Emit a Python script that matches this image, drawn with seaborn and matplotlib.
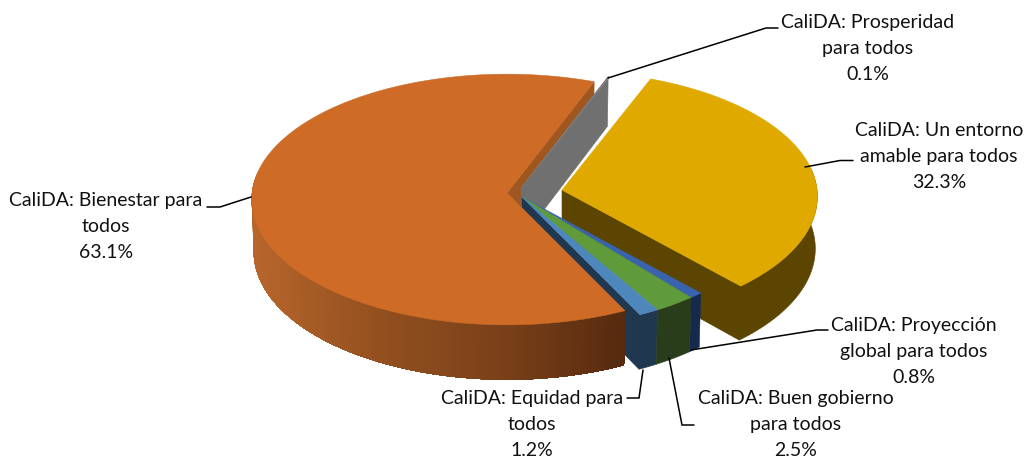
import numpy as np
import matplotlib
matplotlib.use("Agg")
import matplotlib.pyplot as plt
import seaborn as sns

# ---- data -----------------------------------------------------------
categories = ["Prosperidad para todos", "Un entorno amable para todos",
              "Proyección global para todos", "Buen gobierno para todos",
              "Equidad para todos", "Bienestar para todos"]
shares = [0.1, 32.3, 0.8, 2.5, 1.2, 63.1]
label_lines = [["CaliDA: Prosperidad", "para todos"],
               ["CaliDA: Un entorno", "amable para todos"],
               ["CaliDA: Proyección", "global para todos"],
               ["CaliDA: Buen gobierno", "para todos"],
               ["CaliDA: Equidad para", "todos"],
               ["CaliDA: Bienestar para", "todos"]]

# ---- style ----------------------------------------------------------
top_colors = ["#7F7F7F", "#E0A900", "#3A63AD", "#5F9A3B", "#4E87BC", "#CD6B27"]
wall_colors = ["#707070", "#5C4500", "#16294F", "#293D1A", "#1F374F", "#A0561F"]
apex = [(521, 188), (562, 190), (522, 197), (522, 197), (522, 197), (507, 193)]
start_angle = 69.0
RX, RY, PERSP, DEPTH = 255, 125, 0.052, 52
label_pos = [(868, 22.5), (939, 130.5), (914, 325.5), (796, 398.5), (532, 398.5), (106, 200.5)]
leaders = [[(608, 78), (766, 28), (778, 28)],
           [(805, 167), (840, 160.5), (853, 160.5)],
           [(691, 350), (817, 330), (828, 330)],
           [(669, 358), (682, 425), (694, 425)],
           [(643, 370), (639, 398), (627, 398)],
           [(251, 197), (220, 207), (207, 207)]]

sns.set_theme(style="white")
plt.rcParams["font.family"] = ["Lato", "DejaVu Sans"]
fig = plt.figure(figsize=(10.25, 4.58), dpi=100)
ax = fig.add_axes([0, 0, 1, 1])
ax.set_xlim(0, 1025)
ax.set_ylim(458, 0)
ax.axis("off")


def project(i, deg, lift=0.0):
    """Perspective projection of rim points of slice i."""
    t = np.radians(np.atleast_1d(deg))
    s = 1 / (1 + PERSP * np.sin(t))
    return (apex[i][0] + RX * np.cos(t) * s * (1 - 0.008 * lift),
            apex[i][1] - RY * np.sin(t) * s + lift * DEPTH * s)


def face(xs, ys, color, z, lw=0.4):
    ax.fill(xs, ys, color=color, lw=lw, zorder=z)


edges = start_angle - np.cumsum([0] + shares) * 3.6
spans = [(edges[k], edges[k + 1]) for k in range(len(shares))]


def radial_wall(i, deg, z):
    x1, y1 = project(i, deg)
    x2, y2 = project(i, deg, 1)
    ax0, ay0 = apex[i]
    face([ax0, x1[0], x2[0], ax0], [ay0, y1[0], y2[0], ay0 + DEPTH], wall_colors[i], z)


def outer_wall(i, a0, a1, z, with_apex=False):
    d = np.linspace(a0, a1, 120)
    x1, y1 = project(i, d)
    x2, y2 = project(i, d, 1)
    xs, ys = np.r_[x1, x2[::-1]], np.r_[y1, y2[::-1]]
    if with_apex:
        xs = np.r_[apex[i][0], xs, apex[i][0]]
        ys = np.r_[apex[i][1], ys, apex[i][1] + DEPTH]
    face(xs, ys, wall_colors[i], z)


def top(i, z):
    d = np.linspace(*spans[i], 240)
    x, y = project(i, d)
    face(np.r_[apex[i][0], x], np.r_[apex[i][1], y], top_colors[i], z)


# back: bienestar cut face, then prosperidad
radial_wall(5, spans[5][1], 1)
radial_wall(0, spans[0][0], 2)
top(0, 3)

# un entorno: cut face and rim as one shape
outer_wall(1, spans[1][1], min(spans[1][0], 10), 4, with_apex=True)
top(1, 5)

# thin front slices
for i in (2, 3):
    outer_wall(i, spans[i][1], spans[i][0], 7)
outer_wall(4, spans[4][1], spans[4][0], 6, with_apex=True)
for i in (2, 3, 4):
    top(i, 8)

# bienestar rim with a shaded gradient, painted left over right without seams
n = 150
rim = np.linspace(spans[5][0], -190, n + 1)
shade = sns.blend_palette(["#B7662B", "#93501F", "#7A4019", "#552A0E"], 256)
rx_all, _ = project(5, rim)
x_lo, x_hi = rx_all.min(), rx_all.max()
for k in range(n, 0, -1):
    seg = rim[:k + 1]
    x1, y1 = project(5, seg)
    x2, y2 = project(5, seg, 1)
    frac = (x1[-1] - x_lo) / (x_hi - x_lo)
    face(np.r_[x1, x2[::-1]], np.r_[y1, y2[::-1]], shade[int(frac * 255)], 9, lw=0)
top(5, 10)

# labels and leaders
for i in range(len(shares)):
    xs, ys = zip(*leaders[i])
    ax.plot(xs, ys, color="black", lw=1.1, zorder=11, solid_joinstyle="miter")
    cx, cy = label_pos[i]
    for j, line in enumerate(label_lines[i] + [f"{shares[i]:.1f}%"]):
        ax.text(cx, cy + j * 26, line, ha="center", va="center",
                fontsize=14, color="#111111", zorder=12)

fig.savefig("out.png", dpi=100, facecolor="white")
